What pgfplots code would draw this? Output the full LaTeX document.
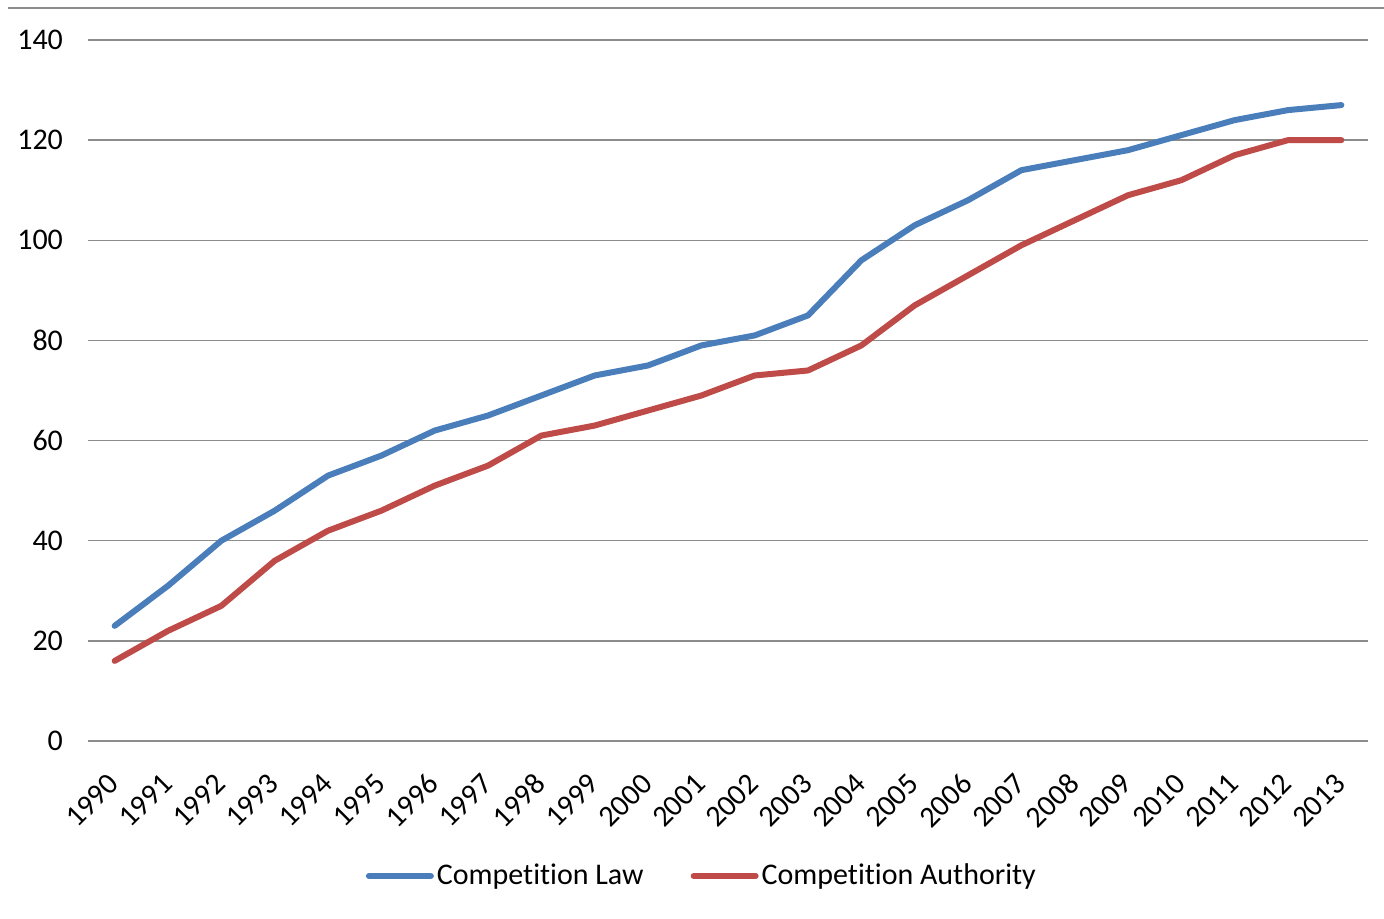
\documentclass[border=0pt]{standalone}
\usepackage{pgfplots}
\pgfplotsset{compat=1.18}
\usepackage{fontspec}
\setmainfont{Carlito}[Ligatures=NoCommon]
\definecolor{cblue}{HTML}{4A7EBB}
\definecolor{cred}{HTML}{BE4B48}
\definecolor{cgrid}{HTML}{8C8C8C}
\begin{document}
\begin{tikzpicture}
\useasboundingbox (0,0) rectangle (692pt,459pt);
\draw[cgrid, line width=0.8pt] (4pt,455pt) -- (692pt,455pt);
\begin{axis}[
  at={(44pt,88.5pt)}, anchor=south west,
  scale only axis, width=640pt, height=350.5pt,
  xmin=1989.5, xmax=2013.5, ymin=0, ymax=140,
  ytick={0,20,...,140},
  xtick={1990,...,2013},
  axis line style={draw=none},
  major tick length=0pt,
  ymajorgrids, grid style={cgrid, line width=0.75pt},
  font=\fontsize{15pt}{18pt}\selectfont,
  /pgf/number format/assume math mode=true,
  /pgf/number format/1000 sep={},
  yticklabel style={anchor=east, xshift=-9pt},
  xticklabel style={xshift=2pt, yshift=-16.5pt, rotate=45, anchor=east},
  legend style={at={(0.48,-0.1926)}, anchor=center, draw=none,
    font=\fontsize{15pt}{18pt}\selectfont,
    /tikz/every even column/.append style={column sep=22pt},
    nodes={inner sep=1.5pt}},
  legend columns=2,
  legend cell align=left,
  legend image code/.code={\draw[#1, line width=3pt, line cap=round] (0pt,0pt) -- (31pt,0pt);},
]
\addplot[cblue, line width=3pt, line join=round, line cap=round] coordinates {
(1990,23) (1991,31) (1992,40) (1993,46) (1994,53) (1995,57) (1996,62) (1997,65)
(1998,69) (1999,73) (2000,75) (2001,79) (2002,81) (2003,85) (2004,96) (2005,103)
(2006,108) (2007,114) (2008,116) (2009,118) (2010,121) (2011,124) (2012,126) (2013,127)};
\addlegendentry{Competition Law}
\addplot[cred, line width=3pt, line join=round, line cap=round] coordinates {
(1990,16) (1991,22) (1992,27) (1993,36) (1994,42) (1995,46) (1996,51) (1997,55)
(1998,61) (1999,63) (2000,66) (2001,69) (2002,73) (2003,74) (2004,79) (2005,87)
(2006,93) (2007,99) (2008,104) (2009,109) (2010,112) (2011,117) (2012,120) (2013,120)};
\addlegendentry{Competition Authority}
\end{axis}
\end{tikzpicture}
\end{document}
